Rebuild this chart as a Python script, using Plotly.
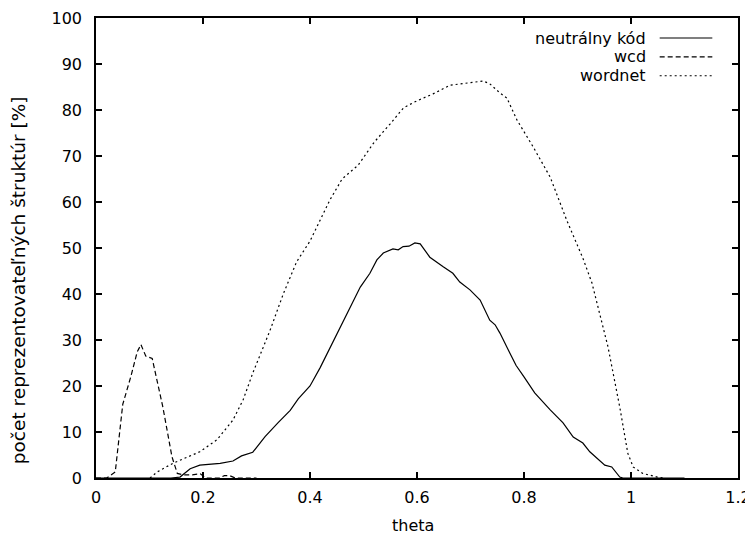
import plotly.graph_objects as go

# neutrálny kód
neutral_x = [0.0, 0.14, 0.157, 0.176, 0.194, 0.232, 0.256, 0.272, 0.293, 0.316, 0.34, 0.363,
             0.378, 0.40, 0.419, 0.445, 0.475, 0.494, 0.512, 0.525, 0.537, 0.555, 0.565,
             0.574, 0.585, 0.596, 0.606, 0.624, 0.649, 0.667, 0.680, 0.699, 0.718, 0.736,
             0.746, 0.755, 0.77, 0.785, 0.80, 0.82, 0.849, 0.873, 0.892, 0.910, 0.923,
             0.951, 0.964, 0.979, 0.985, 1.1]
neutral_y = [0, 0, 0.2, 2, 2.8, 3.2, 3.7, 4.8, 5.6, 9, 12, 14.7,
             17.2, 20, 24, 30, 37, 41.5, 44.5, 47.4, 48.9, 49.8, 49.6,
             50.3, 50.4, 51.1, 50.9, 48, 45.9, 44.5, 42.6, 40.9, 38.7, 34.3,
             33.3, 31.5, 28, 24.5, 22, 18.5, 14.8, 12, 8.9, 7.6, 5.7,
             2.8, 2.4, 0.2, 0, 0]

# wcd
wcd_x = [0.0, 0.02, 0.036, 0.05, 0.06, 0.065, 0.077, 0.084, 0.093, 0.105, 0.125, 0.142,
         0.152, 0.163, 0.18, 0.195, 0.205, 0.23, 0.24, 0.25, 0.26, 0.3]
wcd_y = [0, 0, 1.3, 16, 20, 22, 27.4, 29, 26.5, 26, 15.4, 4.6,
         1, 0.7, 0.7, 0.9, 0, 0, 0.5, 0.5, 0, 0]

# wordnet
wordnet_x = [0.101, 0.114, 0.144, 0.17, 0.194, 0.226, 0.256, 0.275, 0.293, 0.325, 0.35,
             0.375, 0.40, 0.437, 0.46, 0.49, 0.52, 0.55, 0.575, 0.60, 0.63, 0.662,
             0.693, 0.724, 0.736, 0.755, 0.768, 0.787, 0.817, 0.849, 0.880, 0.910,
             0.927, 0.957, 0.979, 0.994, 1.004, 1.022, 1.049, 1.063]
wordnet_y = [0, 1.3, 3.2, 4.5, 5.7, 8.3, 12.6, 17, 22.8, 32, 40,
             47, 51.5, 60.4, 65, 68, 73, 77, 80.5, 82, 83.5, 85.4,
             85.9, 86.3, 85.7, 83.7, 82.6, 77.8, 72, 65.4, 56, 47.8,
             42.4, 28.5, 15.4, 5.4, 2.4, 1, 0.2, 0]

series = [
    ("neutrálny kód", neutral_x, neutral_y, "solid"),
    ("wcd", wcd_x, wcd_y, "5px,3px"),
    ("wordnet", wordnet_x, wordnet_y, "2px,3px"),
]

FONT = "DejaVu Sans, Liberation Sans, Arial"

fig = go.Figure()
for name, xs, ys, dash in series:
    fig.add_trace(go.Scatter(x=xs, y=ys, mode="lines", name=name,
                             line=dict(color="black", width=1.2, dash=dash)))

# gnuplot-style key: right-aligned text, sample line to the right
for i, (name, xs, ys, dash) in enumerate(series):
    yk = 0.9565 - i * 0.041
    fig.add_annotation(x=0.860, y=yk, xref="paper", yref="paper", text=name,
                       showarrow=False, xanchor="right", yanchor="middle",
                       font=dict(size=16, color="black"))
    fig.add_shape(type="line", xref="paper", yref="paper", x0=0.878, x1=0.960,
                  y0=yk, y1=yk, line=dict(color="black", width=1.2, dash=dash))

# axis titles placed like gnuplot does
fig.add_annotation(x=0.5, y=0, xref="paper", yref="paper", text="theta",
                   showarrow=False, xanchor="center", yanchor="middle",
                   yshift=-47, xshift=-4, font=dict(size=16, color="black"))
fig.add_annotation(x=0, y=0.43, xref="paper", yref="paper",
                   text="počet reprezentovateľných štruktúr [%]", textangle=-90,
                   showarrow=False, xanchor="center", yanchor="middle",
                   xshift=-78, font=dict(size=18.5, color="black"))

axis_style = dict(showgrid=False, zeroline=False, showline=True, linecolor="black",
                  linewidth=1.5, mirror="ticks", ticks="inside", ticklen=6,
                  tickcolor="black", tickwidth=1.5, automargin=False,
                  tickfont=dict(family=FONT, size=16, color="black"))

# page body has an 8px margin, so the figure is 8px smaller than the window
fig.update_layout(
    width=745, height=527,
    margin=dict(l=88, r=15, t=10, b=57),
    plot_bgcolor="white", paper_bgcolor="white",
    showlegend=False,
    font=dict(family=FONT, size=16, color="black"),
    xaxis=dict(range=[0, 1.2], dtick=0.2, tickformat="~g",
               ticklabelstandoff=4, **axis_style),
    yaxis=dict(range=[0, 100], dtick=10, ticklabelstandoff=9, **axis_style),
)

fig.write_html("out.html")
